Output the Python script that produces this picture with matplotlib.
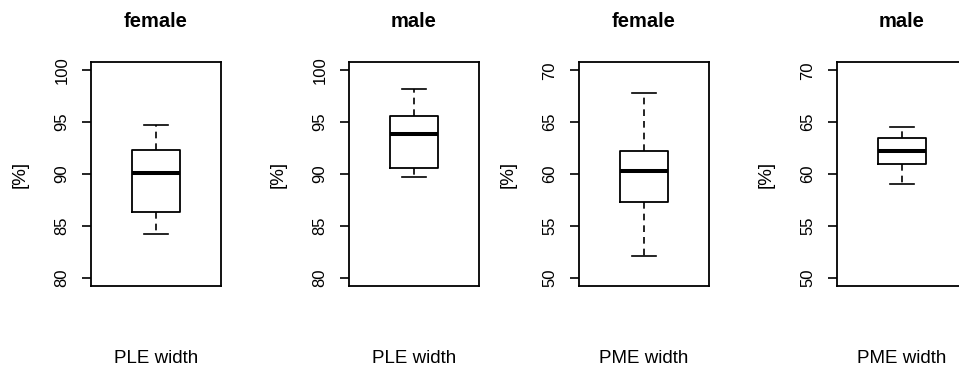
import matplotlib
matplotlib.use("Agg")
import matplotlib.pyplot as plt

plt.rcParams["font.family"] = ["Liberation Sans", "DejaVu Sans"]

# ── Data ─────────────────────────────────────────────────────────────────────
TITLES = ["female", "male", "female", "male"]
XLABELS = ["PLE width", "PLE width", "PME width", "PME width"]
YLABEL = "[%]"
YLIMS = [(80, 100), (80, 100), (50, 70), (50, 70)]
YTICKS = [[80, 85, 90, 95, 100], [80, 85, 90, 95, 100],
          [50, 55, 60, 65, 70], [50, 55, 60, 65, 70]]

WHISKER_LO = [84.2, 89.7, 52.1, 59.0]
Q1 = [86.3, 90.6, 57.3, 61.0]
MEDIAN = [90.1, 93.9, 60.3, 62.2]
Q3 = [92.3, 95.6, 62.2, 63.5]
WHISKER_HI = [94.7, 98.2, 67.8, 64.5]

# ── Layout (figure fractions) ────────────────────────────────────────────────
W, H = 959, 371
LEFTS_PX = [91, 349, 579, 837]
AX_W_PX, AX_TOP_PX, AX_BOT_PX = 130, 62, 286

fig = plt.figure(figsize=(W / 100, H / 100), dpi=100)

for i in range(4):
    ax = fig.add_axes([LEFTS_PX[i] / W, (H - AX_BOT_PX) / H,
                       AX_W_PX / W, (AX_BOT_PX - AX_TOP_PX) / H])
    stats = [{
        "whislo": WHISKER_LO[i], "q1": Q1[i], "med": MEDIAN[i],
        "q3": Q3[i], "whishi": WHISKER_HI[i], "fliers": [],
    }]
    ax.bxp(stats, positions=[1], widths=0.37, showfliers=False,
           boxprops=dict(color="black", linewidth=1.3),
           medianprops=dict(color="black", linewidth=2.9),
           whiskerprops=dict(color="black", linewidth=1.2, linestyle=(0, (4, 3))),
           capprops=dict(color="black", linewidth=1.2),
           capwidths=0.185)

    lo, hi = YLIMS[i]
    pad = (hi - lo) * 0.04
    ax.set_ylim(lo - pad, hi + pad)
    ax.set_xlim(0.5, 1.5)
    ax.set_yticks(YTICKS[i])
    ax.set_yticklabels([str(t) for t in YTICKS[i]])
    ax.set_xticks([])
    ax.tick_params(axis="y", labelrotation=90, length=6.5, width=1.2,
                   pad=9, labelsize=12, colors="black")
    for lab in ax.get_yticklabels():
        lab.set_verticalalignment("center")
    for sp in ax.spines.values():
        sp.set_linewidth(1.3)

    ax.text(0.5, 1.156, TITLES[i], transform=ax.transAxes, ha="center",
            va="baseline", fontsize=14.5, fontweight="bold")
    ax.text(0.5, -0.344, XLABELS[i], transform=ax.transAxes, ha="center",
            va="baseline", fontsize=13.5)
    ax.text(-0.546, 0.5, YLABEL, transform=ax.transAxes, ha="center",
            va="center", rotation=90, fontsize=13.5)

fig.savefig("out.png", dpi=100)
plt.close(fig)
